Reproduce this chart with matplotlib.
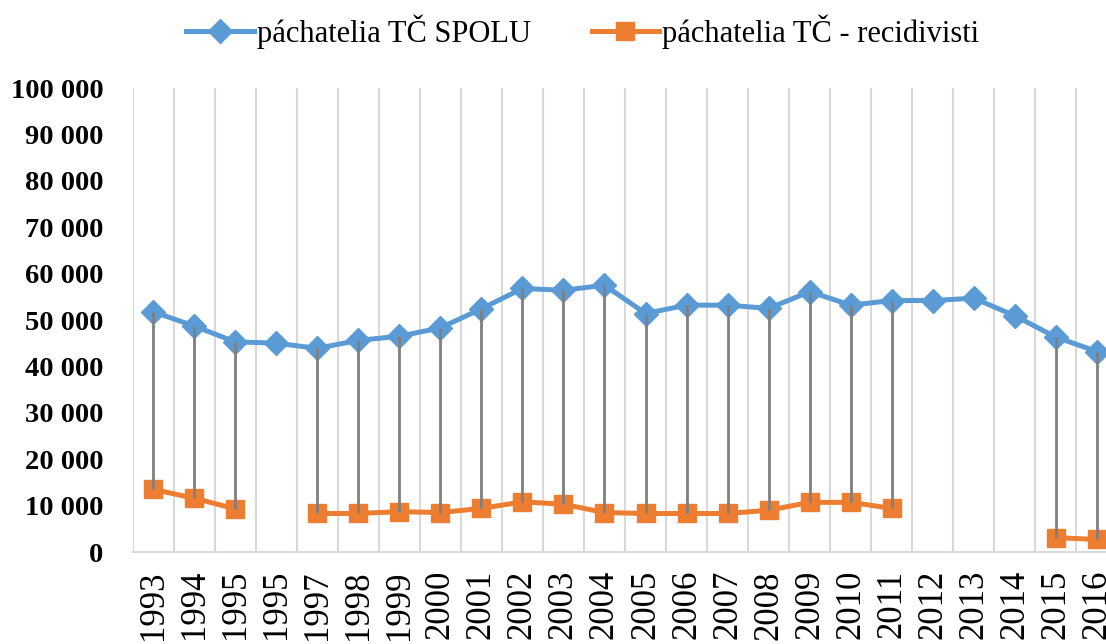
import numpy as np
import matplotlib.pyplot as plt
from matplotlib.ticker import FuncFormatter

# Roky (v origináli je rok 1995 uvedený dvakrát)
roky = ['1993', '1994', '1995', '1995', '1997', '1998', '1999', '2000',
        '2001', '2002', '2003', '2004', '2005', '2006', '2007', '2008',
        '2009', '2010', '2011', '2012', '2013', '2014', '2015', '2016']

# páchatelia TČ SPOLU
spolu = [51800, 48700, 45300, 45000, 43900, 45600, 46500, 48300,
         52400, 56800, 56400, 57500, 51400, 53200, 53200, 52500,
         56100, 53200, 54200, 54200, 54700, 50900, 46300, 43200]

# páchatelia TČ - recidivisti (chýbajúce roky = NaN)
recidivisti = [13500, 11600, 9300, np.nan, 8300, 8300, 8700, 8500,
               9400, 10800, 10300, 8500, 8300, 8300, 8300, 9000,
               10700, 10700, 9400, np.nan, np.nan, np.nan, 3100, 2700]

modra = '#5B9BD5'
oranzova = '#ED7D31'

plt.rcParams['font.family'] = ['Liberation Serif', 'DejaVu Serif']

fig = plt.figure(figsize=(11.06, 6.44), dpi=100)
ax = fig.add_axes([132.5 / 1106, 92 / 644, 985 / 1106, 464 / 644])

x = np.arange(len(roky))
spolu_arr = np.array(spolu, dtype=float)
recid_arr = np.array(recidivisti, dtype=float)

# vertikálna mriežka medzi kategóriami
for b in np.arange(len(roky) + 1) - 0.5:
    ax.axvline(b, color='#D9D9D9', lw=1.5, zorder=0)

ax.plot(x, spolu_arr, color=modra, lw=3.6, marker='D', markersize=12,
        label='páchatelia TČ SPOLU', zorder=3)
ax.plot(x, recid_arr, color=oranzova, lw=3.6, marker='s', markersize=13,
        label='páchatelia TČ - recidivisti', zorder=3)

# čiary high-low medzi sériami
ok = ~np.isnan(recid_arr)
ax.vlines(x[ok], recid_arr[ok], spolu_arr[ok], color='#7F7F7F', lw=2, zorder=4)

ax.set_xlim(-0.5, len(roky) - 0.5)
ax.set_ylim(0, 100000)
ax.set_yticks(np.arange(0, 100001, 10000))
ax.yaxis.set_major_formatter(FuncFormatter(lambda v, p: f'{int(v):,}'.replace(',', ' ')))
ax.set_xticks(x)
ax.set_xticklabels(roky, rotation=90, fontsize=25)

for lab in ax.get_yticklabels():
    lab.set_fontweight('bold')
    lab.set_fontsize(20.5)

ax.tick_params(axis='y', length=0, pad=21)
ax.tick_params(axis='x', length=0, pad=13)

for s in ['top', 'right', 'left']:
    ax.spines[s].set_visible(False)
ax.spines['bottom'].set_color('#D9D9D9')
ax.spines['bottom'].set_linewidth(1.5)

fig.legend(loc='upper center', bbox_to_anchor=(0.527, 1.02), ncol=2, frameon=False,
           fontsize=22, handlelength=2.2, handletextpad=0.1, columnspacing=2.0)

fig.savefig('out.png', dpi=100)
